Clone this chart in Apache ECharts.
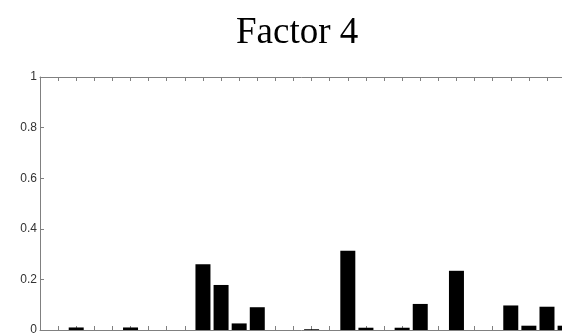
<!DOCTYPE html>
<html>
<head>
<meta charset="utf-8">
<style>html,body{margin:0;padding:0;background:#fff}#chart{width:562px;height:335px}</style>
<script src="https://cdn.jsdelivr.net/npm/echarts@6/dist/echarts.min.js"></script>
</head>
<body>
<div id="chart"></div>
<script>
const titleText = "Factor 4";
const positions = [1, 2, 3, 4, 5, 6, 7, 8, 9, 10, 11, 12, 13, 14, 15, 16, 17, 18, 19, 20, 21, 22, 23, 24, 25, 26, 27, 28, 29];
const values = [0, 0.01, 0, 0, 0.01, 0, 0, 0, 0.26, 0.178, 0.026, 0.09, 0, 0, 0.003, 0, 0.313, 0.009, 0, 0.009, 0.103, 0, 0.234, 0, 0, 0.097, 0.017, 0.092, 0.017];
const yTicks = [0, 0.2, 0.4, 0.6, 0.8, 1];

const chart = echarts.init(document.getElementById('chart'), null, {renderer: 'canvas'});
const axisGray = '#808080';
const xCommon = {
  type: 'value', min: 0, max: 30, interval: 1,
  axisLine: {show: true, onZero: false, lineStyle: {color: axisGray, width: 1}},
  axisTick: {show: true, inside: true, length: 4, lineStyle: {color: axisGray}},
  axisLabel: {show: false},
  splitLine: {show: false}
};
const yCommon = {
  type: 'value', min: yTicks[0], max: yTicks[yTicks.length - 1], interval: 0.2,
  axisLine: {show: true, onZero: false, lineStyle: {color: axisGray, width: 1}},
  axisTick: {show: true, inside: true, length: 4, lineStyle: {color: axisGray}},
  splitLine: {show: false}
};
chart.setOption({
  animation: false,
  backgroundColor: '#fff',
  title: {
    text: titleText, left: 231, top: 10,
    textStyle: {fontFamily: 'Liberation Serif', fontSize: 37, fontWeight: 'normal', color: '#000'}
  },
  grid: {left: 40, top: 77, width: 543.2, bottom: 5, containLabel: false, outerBoundsMode: 'none'},
  xAxis: [
    Object.assign({}, xCommon, {position: 'bottom'}),
    Object.assign({}, xCommon, {position: 'top'})
  ],
  yAxis: [
    Object.assign({}, yCommon, {position: 'left',
      axisLabel: {show: true, margin: 3, fontFamily: 'Liberation Sans', fontSize: 12, color: '#333',
        formatter: v => String(Math.round(v * 10) / 10)}}),
    Object.assign({}, yCommon, {position: 'right', axisLabel: {show: false}})
  ],
  series: [{
    type: 'bar', xAxisIndex: 0, yAxisIndex: 0,
    barWidth: 15,
    itemStyle: {color: '#000', borderWidth: 0},
    data: positions.map((p, i) => [p, values[i]])
  }]
});
</script>
</body>
</html>
